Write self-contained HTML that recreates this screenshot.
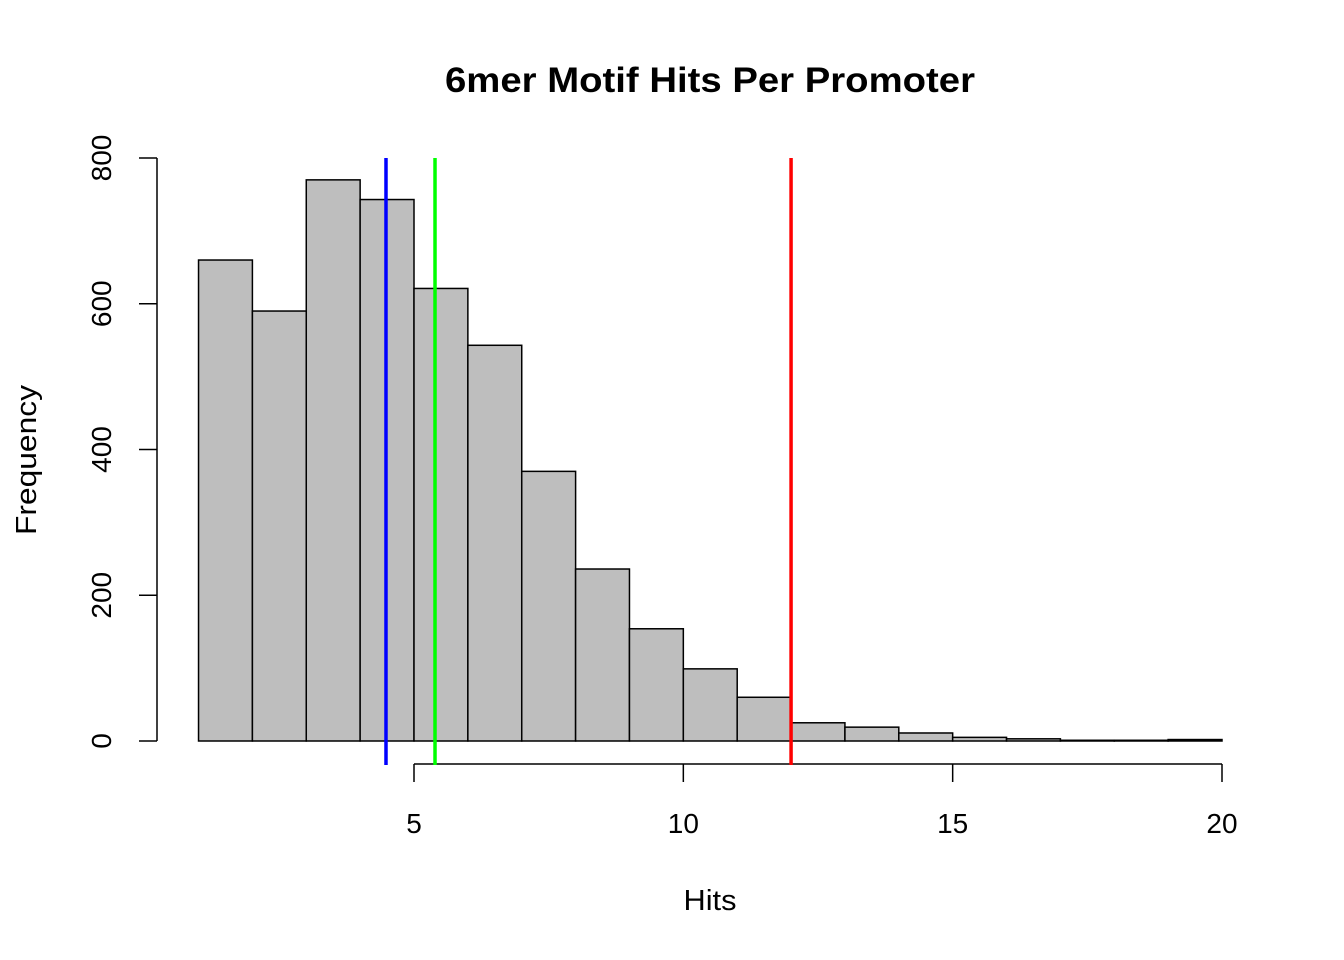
<!DOCTYPE html>
<html><head><meta charset="utf-8"><style>
body{margin:0;background:#fff}
svg{display:block;font-family:"Liberation Sans",Arial,sans-serif}
</style></head><body>
<svg id="chart" width="1344" height="960">
<text x="710" y="92" text-anchor="middle" font-size="35" font-weight="bold" textLength="530" lengthAdjust="spacingAndGlyphs">6mer Motif Hits Per Promoter</text>
<text x="710" y="910" text-anchor="middle" font-size="29" textLength="53" lengthAdjust="spacingAndGlyphs">Hits</text>
<text transform="translate(36,460) rotate(-90)" text-anchor="middle" font-size="29" textLength="150" lengthAdjust="spacingAndGlyphs">Frequency</text>
<g id="bars"></g><g id="xaxis"></g><g id="yaxis"></g><g id="vlines"></g>
</svg>
<script>
const binStarts=[1,2,3,4,5,6,7,8,9,10,11,12,13,14,15,16,17,18,19];
const counts=[660,590,770,743,621,543,370,236,154,99,60,25,19,11,5,3,1,1,2];
const xTicks=[5,10,15,20];
const yTicks=[0,200,400,600,800];
const refLines=[4.48,5.39,12];
const refColors=["#0000ff","#00ff00","#ff0000"];
const NS="http://www.w3.org/2000/svg";
const X=v=>414+(v-5)*(1222-414)/15;
const Y=v=>741-v*(741-158)/800;
function mk(tag,attrs,parent){const e=document.createElementNS(NS,tag);for(const k in attrs)e.setAttribute(k,attrs[k]);parent.appendChild(e);return e;}
const bars=document.getElementById('bars');
binStarts.forEach((b,i)=>{
 const r=mk('rect',{x:X(b),y:Y(counts[i]),width:X(b+1)-X(b),height:Y(0)-Y(counts[i]),fill:'#bebebe',stroke:'#000','stroke-width':1.5},bars);
 
 
});
const xa=document.getElementById('xaxis');
mk('line',{x1:X(xTicks[0]),x2:X(xTicks[xTicks.length-1]),y1:764,y2:764,stroke:'#000','stroke-width':1.5},xa);
xTicks.forEach(t=>{
 mk('line',{x1:X(t),x2:X(t),y1:764,y2:782,stroke:'#000','stroke-width':1.5},xa);
 const tx=mk('text',{x:X(t),y:833,'text-anchor':'middle','font-size':28},xa);tx.textContent=t;
 
 
});
const ya=document.getElementById('yaxis');
mk('line',{x1:157,x2:157,y1:Y(yTicks[0]),y2:Y(yTicks[yTicks.length-1]),stroke:'#000','stroke-width':1.5},ya);
yTicks.forEach(t=>{
 mk('line',{x1:139,x2:157,y1:Y(t),y2:Y(t),stroke:'#000','stroke-width':1.5},ya);
 const tx=mk('text',{transform:`translate(111,${Y(t)}) rotate(-90)`,'text-anchor':'middle','font-size':28},ya);tx.textContent=t;
 
 
});
const vl=document.getElementById('vlines');
refLines.forEach((v,i)=>{
 const l=mk('line',{x1:X(v),x2:X(v),y1:158,y2:765,stroke:refColors[i],'stroke-width':3.5},vl);
 
 
});
</script>
</body></html>
